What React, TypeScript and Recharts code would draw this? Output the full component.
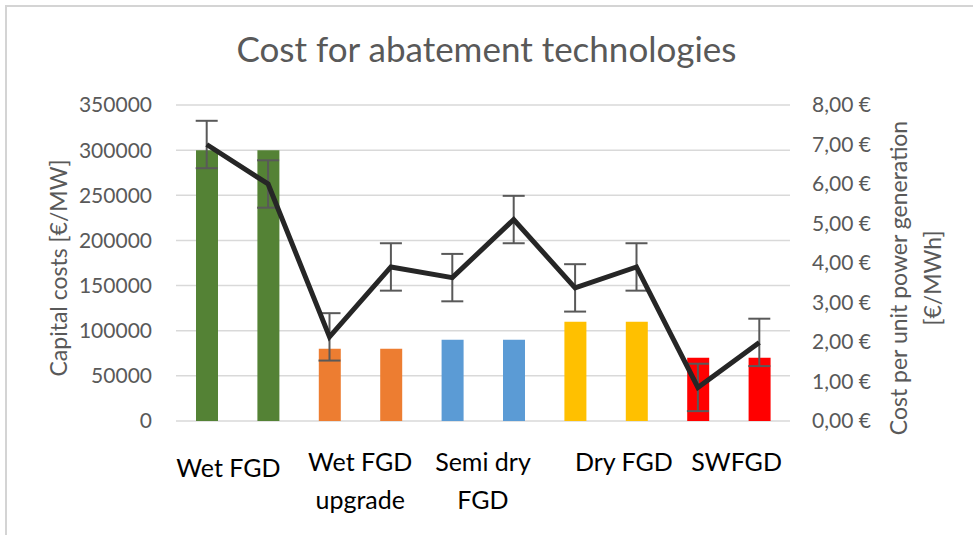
import {
  ComposedChart,
  Bar,
  Line,
  ErrorBar,
  XAxis,
  YAxis,
  CartesianGrid,
  Cell,
} from "recharts";

// one entry per bar (two bars per technology)
const technologies = [
  "Wet FGD",
  "Wet FGD",
  "Wet FGD upgrade",
  "Wet FGD upgrade",
  "Semi dry FGD",
  "Semi dry FGD",
  "Dry FGD",
  "Dry FGD",
  "SWFGD",
  "SWFGD",
];
// axis labels shown once per technology, split into lines
const groupLabels = [
  ["Wet FGD"],
  ["Wet FGD", "upgrade"],
  ["Semi dry", "FGD"],
  ["Dry FGD"],
  ["SWFGD"],
];
const capitalCosts = [300000, 300000, 80000, 80000, 90000, 90000, 110000, 110000, 70000, 70000];
const unitCosts = [7.0, 6.0, 2.13, 3.9, 3.63, 5.1, 3.37, 3.9, 0.85, 1.99];
const unitCostErrors = [0.6, 0.6, 0.6, 0.6, 0.6, 0.6, 0.6, 0.6, 0.6, 0.6];
const barColors = [
  "#548235",
  "#548235",
  "#ED7D31",
  "#ED7D31",
  "#5B9BD5",
  "#5B9BD5",
  "#FFC000",
  "#FFC000",
  "#FF0000",
  "#FF0000",
];
const leftTicks = [0, 50000, 100000, 150000, 200000, 250000, 300000, 350000];
const rightTicks = [0, 1, 2, 3, 4, 5, 6, 7, 8];

// small horizontal nudges so labels sit like the Excel original
const labelShift = [-9, 0, 0, 18, 8];

const data = technologies.map((name, i) => ({
  id: i,
  name,
  capital: capitalCosts[i],
  unit: unitCosts[i],
  err: unitCostErrors[i],
}));

const FONT = "Lato, 'Open Sans', sans-serif";
const TEXT = "#595959";

const GroupTick = (props: any) => {
  const { x, y, index, width } = props;
  if (index % 2 !== 0) return null;
  const g = index / 2;
  const cx = x + width / technologies.length / 2 + labelShift[g];
  const lines = groupLabels[g];
  const startY = lines.length === 1 && index === 0 ? y + 42 : y + 36;
  return (
    <text x={cx} textAnchor="middle" fill="#000" fontSize={25} fontFamily={FONT}>
      {lines.map((l: string, k: number) => (
        <tspan key={k} x={cx} y={startY + k * 38} dominantBaseline="middle">
          {l}
        </tspan>
      ))}
    </text>
  );
};

const App = () => {
  return (
    <div style={{ position: "relative", width: 973, height: 535, background: "#fff" }}>
      <style>{"body{margin:0}"}</style>
      <div
        style={{
          position: "absolute",
          left: 5,
          top: 5,
          width: 968,
          height: 530,
          borderTop: "2px solid #d4d4d4",
          borderLeft: "2px solid #d4d4d4",
          boxSizing: "border-box",
        }}
      />
      <div
        style={{
          position: "absolute",
          top: 27,
          left: 0,
          width: 973,
          textAlign: "center",
          fontFamily: FONT,
          fontSize: 35,
          color: TEXT,
        }}
      >
        Cost for abatement technologies
      </div>
      <div
        style={{
          position: "absolute",
          left: 58,
          top: 268,
          transform: "translate(-50%, -50%) rotate(-90deg)",
          whiteSpace: "nowrap",
          fontFamily: FONT,
          fontSize: 23,
          color: TEXT,
        }}
      >
        Capital costs [€/MW]
      </div>
      <div
        style={{
          position: "absolute",
          left: 915,
          top: 278,
          transform: "translate(-50%, -50%) rotate(-90deg)",
          whiteSpace: "nowrap",
          textAlign: "center",
          lineHeight: "34px",
          fontFamily: FONT,
          fontSize: 23,
          color: TEXT,
        }}
      >
        Cost per unit power generation
        <br />
        [€/MWh]
      </div>
      <div style={{ position: "absolute", left: 0, top: 0 }}>
        <ComposedChart
          width={973}
          height={535}
          data={data}
          margin={{ top: 105, right: 0, bottom: 0, left: 0 }}
        >
          <CartesianGrid
            yAxisId="left"
            vertical={false}
            stroke="#d9d9d9"
            strokeWidth={1.5}
          />
          <XAxis
            dataKey="id"
            type="category"
            height={114}
            axisLine={false}
            tickLine={false}
            interval={0}
            tick={<GroupTick />}
          />
          <YAxis
            yAxisId="left"
            width={176}
            domain={[0, 350000]}
            ticks={leftTicks}
            axisLine={false}
            tickLine={false}
            tickSize={0}
            tickMargin={24}
            tick={{ fill: TEXT, fontSize: 21, fontFamily: FONT }}
          />
          <YAxis
            yAxisId="right"
            orientation="right"
            width={183}
            domain={[0, 8]}
            ticks={rightTicks}
            axisLine={false}
            tickLine={false}
            tickSize={0}
            tickMargin={22}
            tickFormatter={(v: number) => v.toFixed(2).replace(".", ",") + " €"}
            tick={{ fill: TEXT, fontSize: 21, fontFamily: FONT, textAnchor: "start" }}
          />
          <Bar yAxisId="left" dataKey="capital" barSize={22} isAnimationActive={false}>
            {data.map((d, i) => (
              <Cell key={`cell-${i}`} fill={barColors[i]} />
            ))}
          </Bar>
          <Line
            yAxisId="right"
            dataKey="unit"
            stroke="#262626"
            strokeWidth={5}
            dot={false}
            activeDot={false}
            isAnimationActive={false}
          >
            <ErrorBar
              dataKey="err"
              direction="y"
              width={11}
              strokeWidth={2}
              stroke="#595959"
              isAnimationActive={false}
            />
          </Line>
        </ComposedChart>
      </div>
    </div>
  );
};

export default App;
